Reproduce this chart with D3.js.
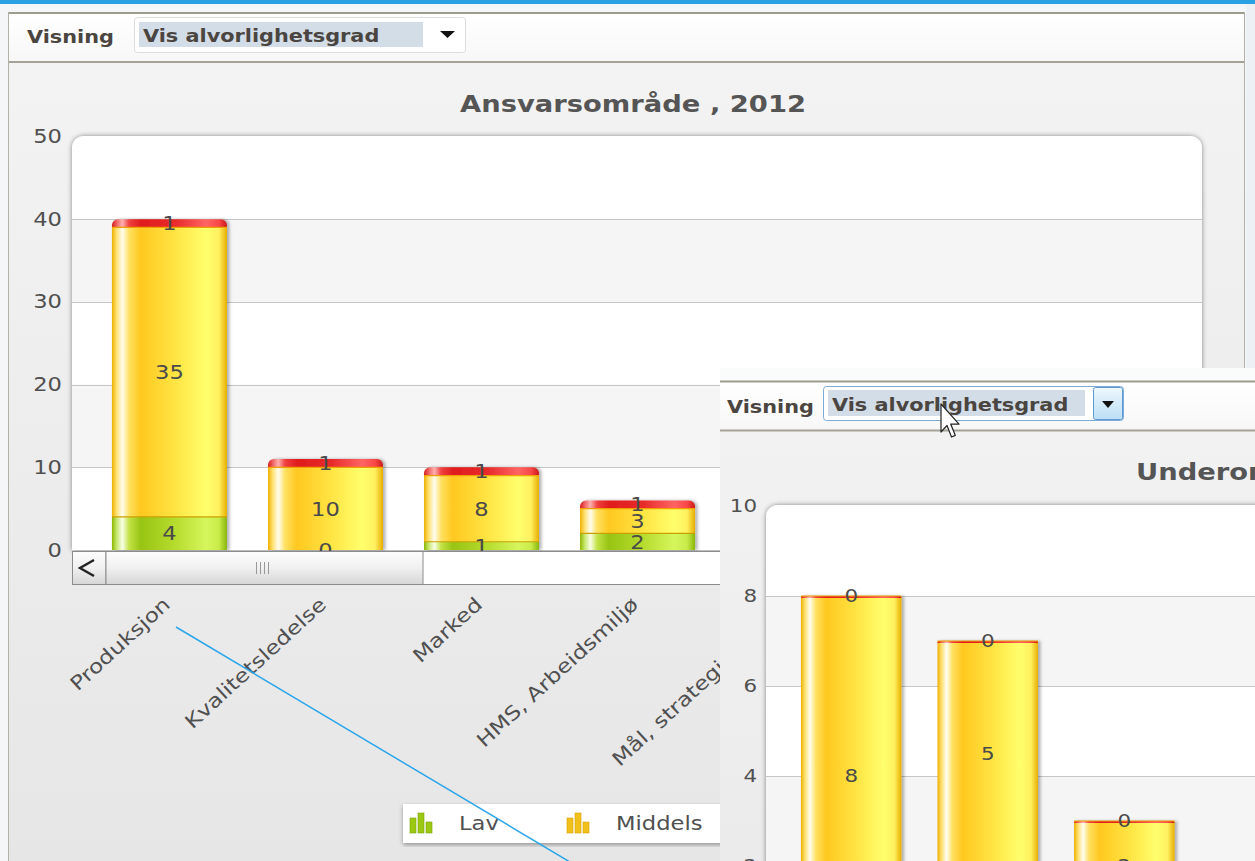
<!DOCTYPE html>
<html><head><meta charset="utf-8">
<script src="https://cdn.jsdelivr.net/npm/d3@7"></script>
<style>
html,body{margin:0;padding:0;background:#f4f6f8;overflow:hidden}
svg{display:block}
text{font-family:"DejaVu Sans",Verdana,sans-serif}
</style></head><body>
<svg id="chart" width="1255" height="861"></svg>
<script>
// ---------- data ----------
const categories = ["Produksjon","Kvalitetsledelse","Marked","HMS, Arbeidsmiljø","Mål, strategi og plan"];
const series = ["Lav","Middels","Høy"];
const lavValues = [4,0,1,2,1];
const middelsValues = [35,10,8,3,2];
const hoyValues = [1,1,1,1,1];
const yTicks = [0,10,20,30,40,50];
const chartTitle = "Ansvarsområde , 2012";
const viewLabel = "Visning";
const viewOption = "Vis alvorlighetsgrad";

const subCategories = ["Underområde A","Underområde B","Underområde C"];
const subLav = [0,2,1];
const subMiddels = [8,5,2];
const subHoy = [0,0,0];
const subYTicks = [0,2,4,6,8,10];
const subTitle = "Underområde , 2012";

// ---------- styles ----------
const SX = 1.19;
const textCol = "#505050";
const svg = d3.select("#chart");
const defs = svg.append("defs");

function grad(id, stops, vertical, user){
  const g = defs.append("linearGradient").attr("id", id)
    .attr("x1","0").attr("y1","0").attr("x2", vertical?"0":"1").attr("y2", vertical?"1":"0");
  if (user){ g.attr("gradientUnits","userSpaceOnUse").attr("x1",0).attr("x2",0).attr("y1",user[0]).attr("y2",user[1]); }
  stops.forEach(([o,c]) => g.append("stop").attr("offset", o).attr("stop-color", c));
}
grad("s0", [[0,"#8cb600"],[0.04,"#c4e66a"],[0.09,"#f8ffe6"],[0.15,"#c2e244"],[0.25,"#98c414"],[0.55,"#b6dc2e"],[0.82,"#d6f65c"],[0.93,"#c8ec4a"],[1,"#8ab608"]]);
grad("s1", [[0,"#eeb000"],[0.04,"#ffe070"],[0.09,"#fffdf0"],[0.15,"#ffe060"],[0.25,"#ffc820"],[0.55,"#ffe443"],[0.82,"#ffff6c"],[0.93,"#fff060"],[1,"#e8ae00"]]);
grad("s2", [[0,"#d41a1a"],[0.04,"#f06060"],[0.09,"#ffb0b0"],[0.15,"#f04040"],[0.25,"#e01c1c"],[0.55,"#e82a2a"],[0.82,"#ff6464"],[0.93,"#f84848"],[1,"#cc1818"]]);
grad("bgMain", [[0,"#f3f3f3"],[1,"#e6e6e6"]], true, [62,861]);
grad("bgSub", [[0,"#f2f2f2"],[1,"#ebebeb"]], true, [431,861]);
grad("tb", [[0,"#ffffff"],[1,"#f7f7f7"]], true);
grad("btn", [[0,"#fdfdfd"],[0.5,"#f0f0f0"],[1,"#d6d6d6"]], true);
grad("arrowBtn", [[0,"#eef7fd"],[1,"#bcdff5"]], true);
const segEdge = ["#c8a000","#f0a000","#d01010"];
const legendCol = [["#9cc814","#7aa600"],["#f2c01a","#d8a000"],["#e43030","#c01010"]];

function shadow(id, dx, dy, sd, op){
  const f = defs.append("filter").attr("id", id).attr("x","-10%").attr("y","-10%").attr("width","120%").attr("height","120%");
  f.append("feDropShadow").attr("dx",dx).attr("dy",dy).attr("stdDeviation",sd).attr("flood-color","#000").attr("flood-opacity",op);
}
shadow("frameSh", 0, 0, 2.5, 0.45);
shadow("barSh", 2.5, 0, 1.5, 0.3);
shadow("legSh", 0, 2, 2, 0.35);

function roundTop(x, y, w, h, r){
  r = Math.max(0, Math.min(r, h, w/2));
  return `M${x},${y+h}V${y+r}A${r},${r} 0 0 1 ${x+r},${y}H${x+w-r}A${r},${r} 0 0 1 ${x+w},${y+r}V${y+h}Z`;
}
function stext(g, str, x, y, size, opts={}){
  const t = g.append("text").text(str)
    .attr("transform", `translate(${x},${y}) rotate(${opts.rot||0}) scale(${SX},1)`)
    .attr("font-size", size).attr("fill", opts.fill||textCol)
    .attr("font-weight", opts.bold?"bold":"normal")
    .attr("text-anchor", opts.anchor||"start");
  if (opts.dy) t.attr("dy", opts.dy);
  return t;
}

// ---------- page ----------
svg.append("rect").attr("width",1255).attr("height",861).attr("fill","#f4f6f8");
svg.append("rect").attr("x",1246).attr("width",9).attr("height",861).attr("fill","#edf1f5");
svg.append("rect").attr("width",1255).attr("height",4).attr("fill","#2aa1e2");

// main panel
svg.append("rect").attr("x",9).attr("y",63).attr("width",1235).attr("height",800).attr("fill","url(#bgMain)");
svg.append("rect").attr("x",9).attr("y",13).attr("width",1235).attr("height",49).attr("fill","url(#tb)");
svg.append("line").attr("x1",8).attr("x2",1245).attr("y1",13).attr("y2",13).attr("stroke","#9e9c8e").attr("stroke-width",2);
svg.append("line").attr("x1",8).attr("x2",1245).attr("y1",62).attr("y2",62).attr("stroke","#a4a296").attr("stroke-width",2);
svg.append("line").attr("x1",8.5).attr("x2",8.5).attr("y1",12).attr("y2",861).attr("stroke","#b4b2a8");
svg.append("line").attr("x1",1244.5).attr("x2",1244.5).attr("y1",12).attr("y2",861).attr("stroke","#b4b2a8");

function toolbar(g, lx, ly, box, hl, tx, ty, blue){
  stext(g, viewLabel, lx, ly, 17.5, {bold:true, fill:"#4a4540"});
  g.append("rect").attr("x",box[0]).attr("y",box[1]).attr("width",box[2]).attr("height",box[3]).attr("rx",3)
    .attr("fill","#fff").attr("stroke", blue ? "#7faad6" : "#dcdcdc");
  g.append("rect").attr("x",hl[0]).attr("y",hl[1]).attr("width",hl[2]).attr("height",hl[3]).attr("fill","#d3dde7");
  stext(g, viewOption, tx, ty, 17.5, {bold:true, fill:"#4a4540"});
}
const tbMain = svg.append("g");
toolbar(tbMain, 27, 43, [134.5,17.5,331,35], [139,22,284,25], 143, 42, false);
tbMain.append("path").attr("d","M440,31H455L447.5,38Z").attr("fill","#111");

// ---------- main chart ----------
const plot = {l:72, r:1202, t:136, b:550};
const x = d3.scaleBand().domain(categories).range([72, 891]).paddingInner(0.263).paddingOuter(0.256);
const y = d3.scaleLinear().domain([0,50]).range([550, 136.5]);

stext(svg, chartTitle, 633, 112, 23, {bold:true, anchor:"middle", fill:"#555"});

function drawPlot(g, yS, ticks, left, right, top, bottom){
  g.append("path").attr("d", roundTop(left, top, right-left, bottom-top, 12))
    .attr("fill","#fff").attr("filter","url(#frameSh)");
  for (let i = 1; i < ticks.length-1; i += 2){
    g.append("rect").attr("x",left).attr("width",right-left)
      .attr("y", yS(ticks[i+1])).attr("height", yS(ticks[i]) - yS(ticks[i+1])).attr("fill","#f5f5f5");
  }
  g.selectAll(null).data(ticks.filter((d,i)=>i>0 && i<ticks.length-1)).join("line")
    .attr("x1",left).attr("x2",right).attr("y1",d=>Math.round(yS(d))+0.5).attr("y2",d=>Math.round(yS(d))+0.5)
    .attr("stroke","#c6c6c6");
}
function drawAxis(g, yS, ticks, xPos, pad, size){
  const ax = g.append("g").attr("transform",`translate(${xPos},0)`)
    .call(d3.axisLeft(yS).tickValues(ticks).tickSize(0).tickPadding(pad));
  ax.select(".domain").remove();
  ax.selectAll("text").attr("font-family",'"DejaVu Sans",Verdana,sans-serif').attr("font-size",size)
    .attr("fill",textCol).attr("x",-pad/SX).attr("transform",`scale(${SX},1)`);
}
function drawBars(g, xS, yS, rows, labelSize){
  const stack = d3.stack().keys(series)(rows);
  const bg = g.append("g").attr("filter","url(#barSh)");
  stack.forEach((layer, si) => {
    bg.selectAll(null).data(layer).join("path")
      .attr("d", d => {
        const x0 = xS(d.data.cat), w = xS.bandwidth();
        const y1 = yS(d[1]), h = Math.max(yS(d[0]) - y1, si===series.length-1 ? 2 : 0);
        return si===series.length-1 ? roundTop(x0, y1, w, h, 6) : `M${x0},${y1}h${w}v${h}h${-w}Z`;
      })
      .attr("fill", `url(#s${si})`);
  });
  stack.slice(0,-1).forEach((layer, si) => {
    g.selectAll(null).data(layer.filter(d=>d[1]>0)).join("line")
      .attr("x1", d=>xS(d.data.cat)).attr("x2", d=>xS(d.data.cat)+xS.bandwidth())
      .attr("y1", d=>yS(d[1])).attr("y2", d=>yS(d[1]))
      .attr("stroke", segEdge[si]).attr("stroke-width",1.2);
  });
  stack.forEach(layer => {
    layer.forEach(d => {
      stext(g, d.data[layer.key], xS(d.data.cat)+xS.bandwidth()/2, yS((d[0]+d[1])/2), labelSize,
        {anchor:"middle", dy:"0.36em", fill:"#4a4a4a"});
    });
  });
}

const mainG = svg.append("g");
drawPlot(mainG, y, yTicks, plot.l, plot.r, plot.t, plot.b);
const rows = categories.map((c,i)=>({cat:c, "Lav":lavValues[i], "Middels":middelsValues[i], "Høy":hoyValues[i]}));
drawBars(mainG, x, y, rows, 19);
drawAxis(mainG, y, yTicks, plot.l, 10, 19);

// scrollbar
const sb = svg.append("g");
sb.append("rect").attr("x",72.5).attr("y",551.5).attr("width",1129).attr("height",33).attr("fill","#fff").attr("stroke","#8c8c8c");
sb.append("rect").attr("x",72.5).attr("y",551.5).attr("width",33.5).attr("height",33).attr("fill","url(#btn)").attr("stroke","#8c8c8c");
sb.append("path").attr("d","M94,560L80,568L94,576").attr("fill","none").attr("stroke","#222").attr("stroke-width",2.4);
sb.append("rect").attr("x",106).attr("y",551.5).attr("width",317).attr("height",33).attr("fill","url(#btn)").attr("stroke","#8c8c8c");
[256,260,264,268].forEach(gx => sb.append("line").attr("x1",gx+0.5).attr("x2",gx+0.5).attr("y1",562).attr("y2",574).attr("stroke","#999"));

// x labels
categories.forEach(c => {
  stext(svg, c, x(c)+x.bandwidth()/2+2, 606, 19.5, {rot:-42.5, anchor:"end"});
});

// legend
const leg = svg.append("g");
leg.append("rect").attr("x",403).attr("y",804).attr("width",700).attr("height",39).attr("fill","#fff").attr("filter","url(#legSh)");
const iconH = [15,20,11];
series.forEach((s,i) => {
  const lx = 410 + i*157;
  iconH.forEach((h,k) => leg.append("rect").attr("x",lx+k*8).attr("y",833-h).attr("width",6).attr("height",h)
    .attr("fill",legendCol[i][0]).attr("stroke",legendCol[i][1]).attr("stroke-width",0.6));
  stext(leg, s, lx+49, 830, 19);
});

// annotation line
svg.append("line").attr("x1",176).attr("y1",627).attr("x2",580).attr("y2",868).attr("stroke","#2aa6ea").attr("stroke-width",1.5);

// ---------- overlay ----------
const ov = svg.append("g");
ov.append("rect").attr("x",720).attr("y",368).attr("width",535).attr("height",493).attr("fill","url(#bgSub)");
ov.append("rect").attr("x",720).attr("y",368).attr("width",535).attr("height",13).attr("fill","#fafbfb");
ov.append("rect").attr("x",720).attr("y",382).attr("width",535).attr("height",48).attr("fill","url(#tb)");
ov.append("line").attr("x1",720).attr("x2",1255).attr("y1",381.5).attr("y2",381.5).attr("stroke","#9e9c8e").attr("stroke-width",2);
ov.append("line").attr("x1",720).attr("x2",1255).attr("y1",430.5).attr("y2",430.5).attr("stroke","#a4a296").attr("stroke-width",2);
toolbar(ov, 727, 413, [823.5,386.5,300,34], [828,390,257,26], 832, 411, true);
ov.append("rect").attr("x",1093.5).attr("y",387.5).attr("width",29).attr("height",32).attr("rx",2).attr("fill","url(#arrowBtn)").attr("stroke","#5b9ad2");
ov.append("path").attr("d","M1102,401H1114L1108,408Z").attr("fill","#111");
stext(ov, subTitle, 1136, 480, 23, {bold:true, fill:"#555"});

const xs = d3.scaleBand().domain(subCategories).range([766, 1209.5]).paddingInner(0.264).paddingOuter(0.256);
const ys = d3.scaleLinear().domain([0,10]).range([956, 506]);
drawPlot(ov, ys, subYTicks, 766, 1400, 505, 960);
const subRows = subCategories.map((c,i)=>({cat:c, "Lav":subLav[i], "Middels":subMiddels[i], "Høy":subHoy[i]}));
drawBars(ov, xs, ys, subRows, 18);
drawAxis(ov, ys, subYTicks, 766, 9, 18);

// mouse cursor
svg.append("path").attr("d","M0,0V17L4,13L7,20L9.5,19L6.5,12.2H12Z")
  .attr("transform","translate(941,404) scale(1.5,1.65)")
  .attr("fill","#fff").attr("stroke","#222").attr("stroke-width",0.8).attr("stroke-linejoin","round");
</script>
</body></html>
